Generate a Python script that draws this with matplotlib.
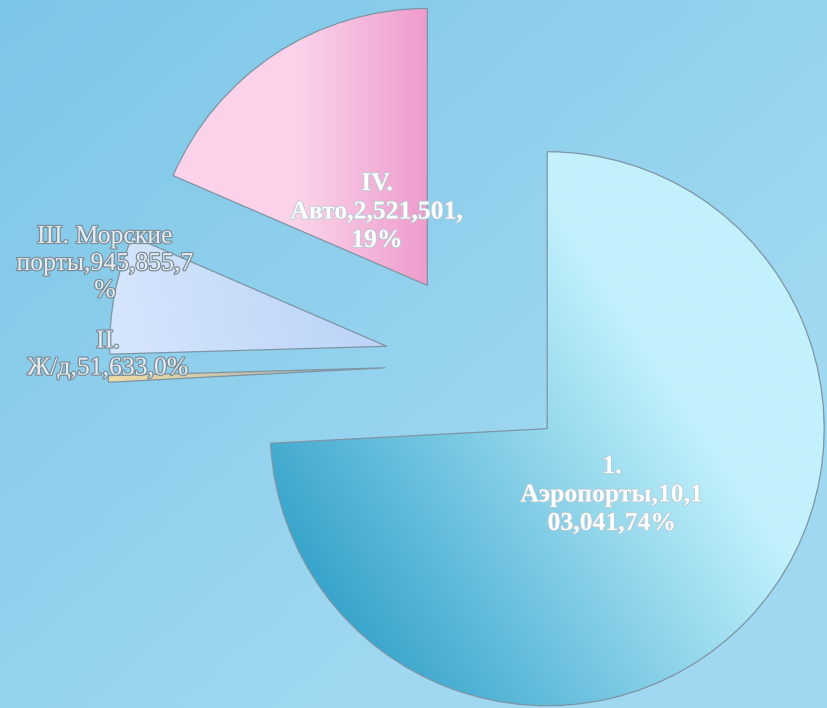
import numpy as np
import matplotlib
matplotlib.use("Agg")
from matplotlib import pyplot as plt
from matplotlib import patheffects as pe
from matplotlib.colors import to_rgb

# Пассажиропоток по видам пунктов пропуска
names = ["I. Аэропорты", "II. Ж/д", "III. Морские порты", "IV. Авто"]
values = [10103041, 51633, 945855, 2521501]
labels = ["1.\nАэропорты,10,1\n03,041,74%",
          "II.\nЖ/д,51,633,0%",
          "III. Морские\nпорты,945,855,7\n%",
          "IV.\nАвто,2,521,501,\n19%"]

W, H = 828, 708


def gradient(extent, p0, p1, c0, c1, n=300):
    x0, x1, y0, y1 = extent
    xs = np.linspace(x0, x1, n)
    ys = np.linspace(y1, y0, n)
    X, Y = np.meshgrid(xs, ys)
    d = np.array(p1, float) - np.array(p0, float)
    t = ((X - p0[0]) * d[0] + (Y - p0[1]) * d[1]) / (d @ d)
    t = np.clip(t, 0, 1)[..., None]
    return (1 - t) * np.array(to_rgb(c0)) + t * np.array(to_rgb(c1))


fig = plt.figure(figsize=(W / 100, H / 100), dpi=100)
ax = fig.add_axes([0, 0, 1, 1])

# фон
bg = gradient((0, W, 0, H), (0, H), (W * 0.6, H * 0.2), "#7cc6e7", "#a0d8f1")
ax.imshow(bg, extent=(0, W, 0, H), zorder=0, aspect="auto")

# explode в pie задаётся в единицах данных (пиксели здесь)
wedges, _ = ax.pie(values, explode=[94] * 4, startangle=90,
                   counterclock=False, radius=277, center=(479, 344),
                   wedgeprops=dict(edgecolor="#7d95a5", linewidth=0.9,
                                   facecolor="none"))

fills = [
    ((330, 60), (690, 300), "#30a0c9", "#c2f1fc"),
    ((100, 330), (380, 340), "#f2dea4", "#9aa6ae"),
    ((120, 300), (380, 350), "#d6e6fc", "#bcd4f8"),
    ((300, 500), (428, 500), "#fbd2ea", "#ee9ccc"),
]
for w, (p0, p1, c0, c1) in zip(wedges, fills):
    w.set_zorder(3)
    img = ax.imshow(gradient((0, W, 0, H), p0, p1, c0, c1),
                    extent=(0, W, 0, H), zorder=2, aspect="auto")
    img.set_clip_path(w)

ax.set_xlim(0, W)
ax.set_ylim(0, H)
ax.set_aspect("equal")
ax.axis("off")

inner = [pe.withStroke(linewidth=1.2, foreground="#b8cad4")]
outer = [pe.withStroke(linewidth=1.8, foreground="#7c8e9a")]
label_pos = [(612, 213), (108, 353), (105, 444), (377, 496)]
for i, (txt, (x, y)) in enumerate(zip(labels, label_pos)):
    bold = i in (0, 3)
    ax.text(x, y, txt, ha="center", va="center", fontsize=18.5,
            family="Liberation Serif", weight="bold" if bold else "normal",
            color="white" if bold else "#e6edf1", linespacing=1.3,
            path_effects=inner if bold else outer, zorder=5)

fig.savefig("out.png", dpi=100)
